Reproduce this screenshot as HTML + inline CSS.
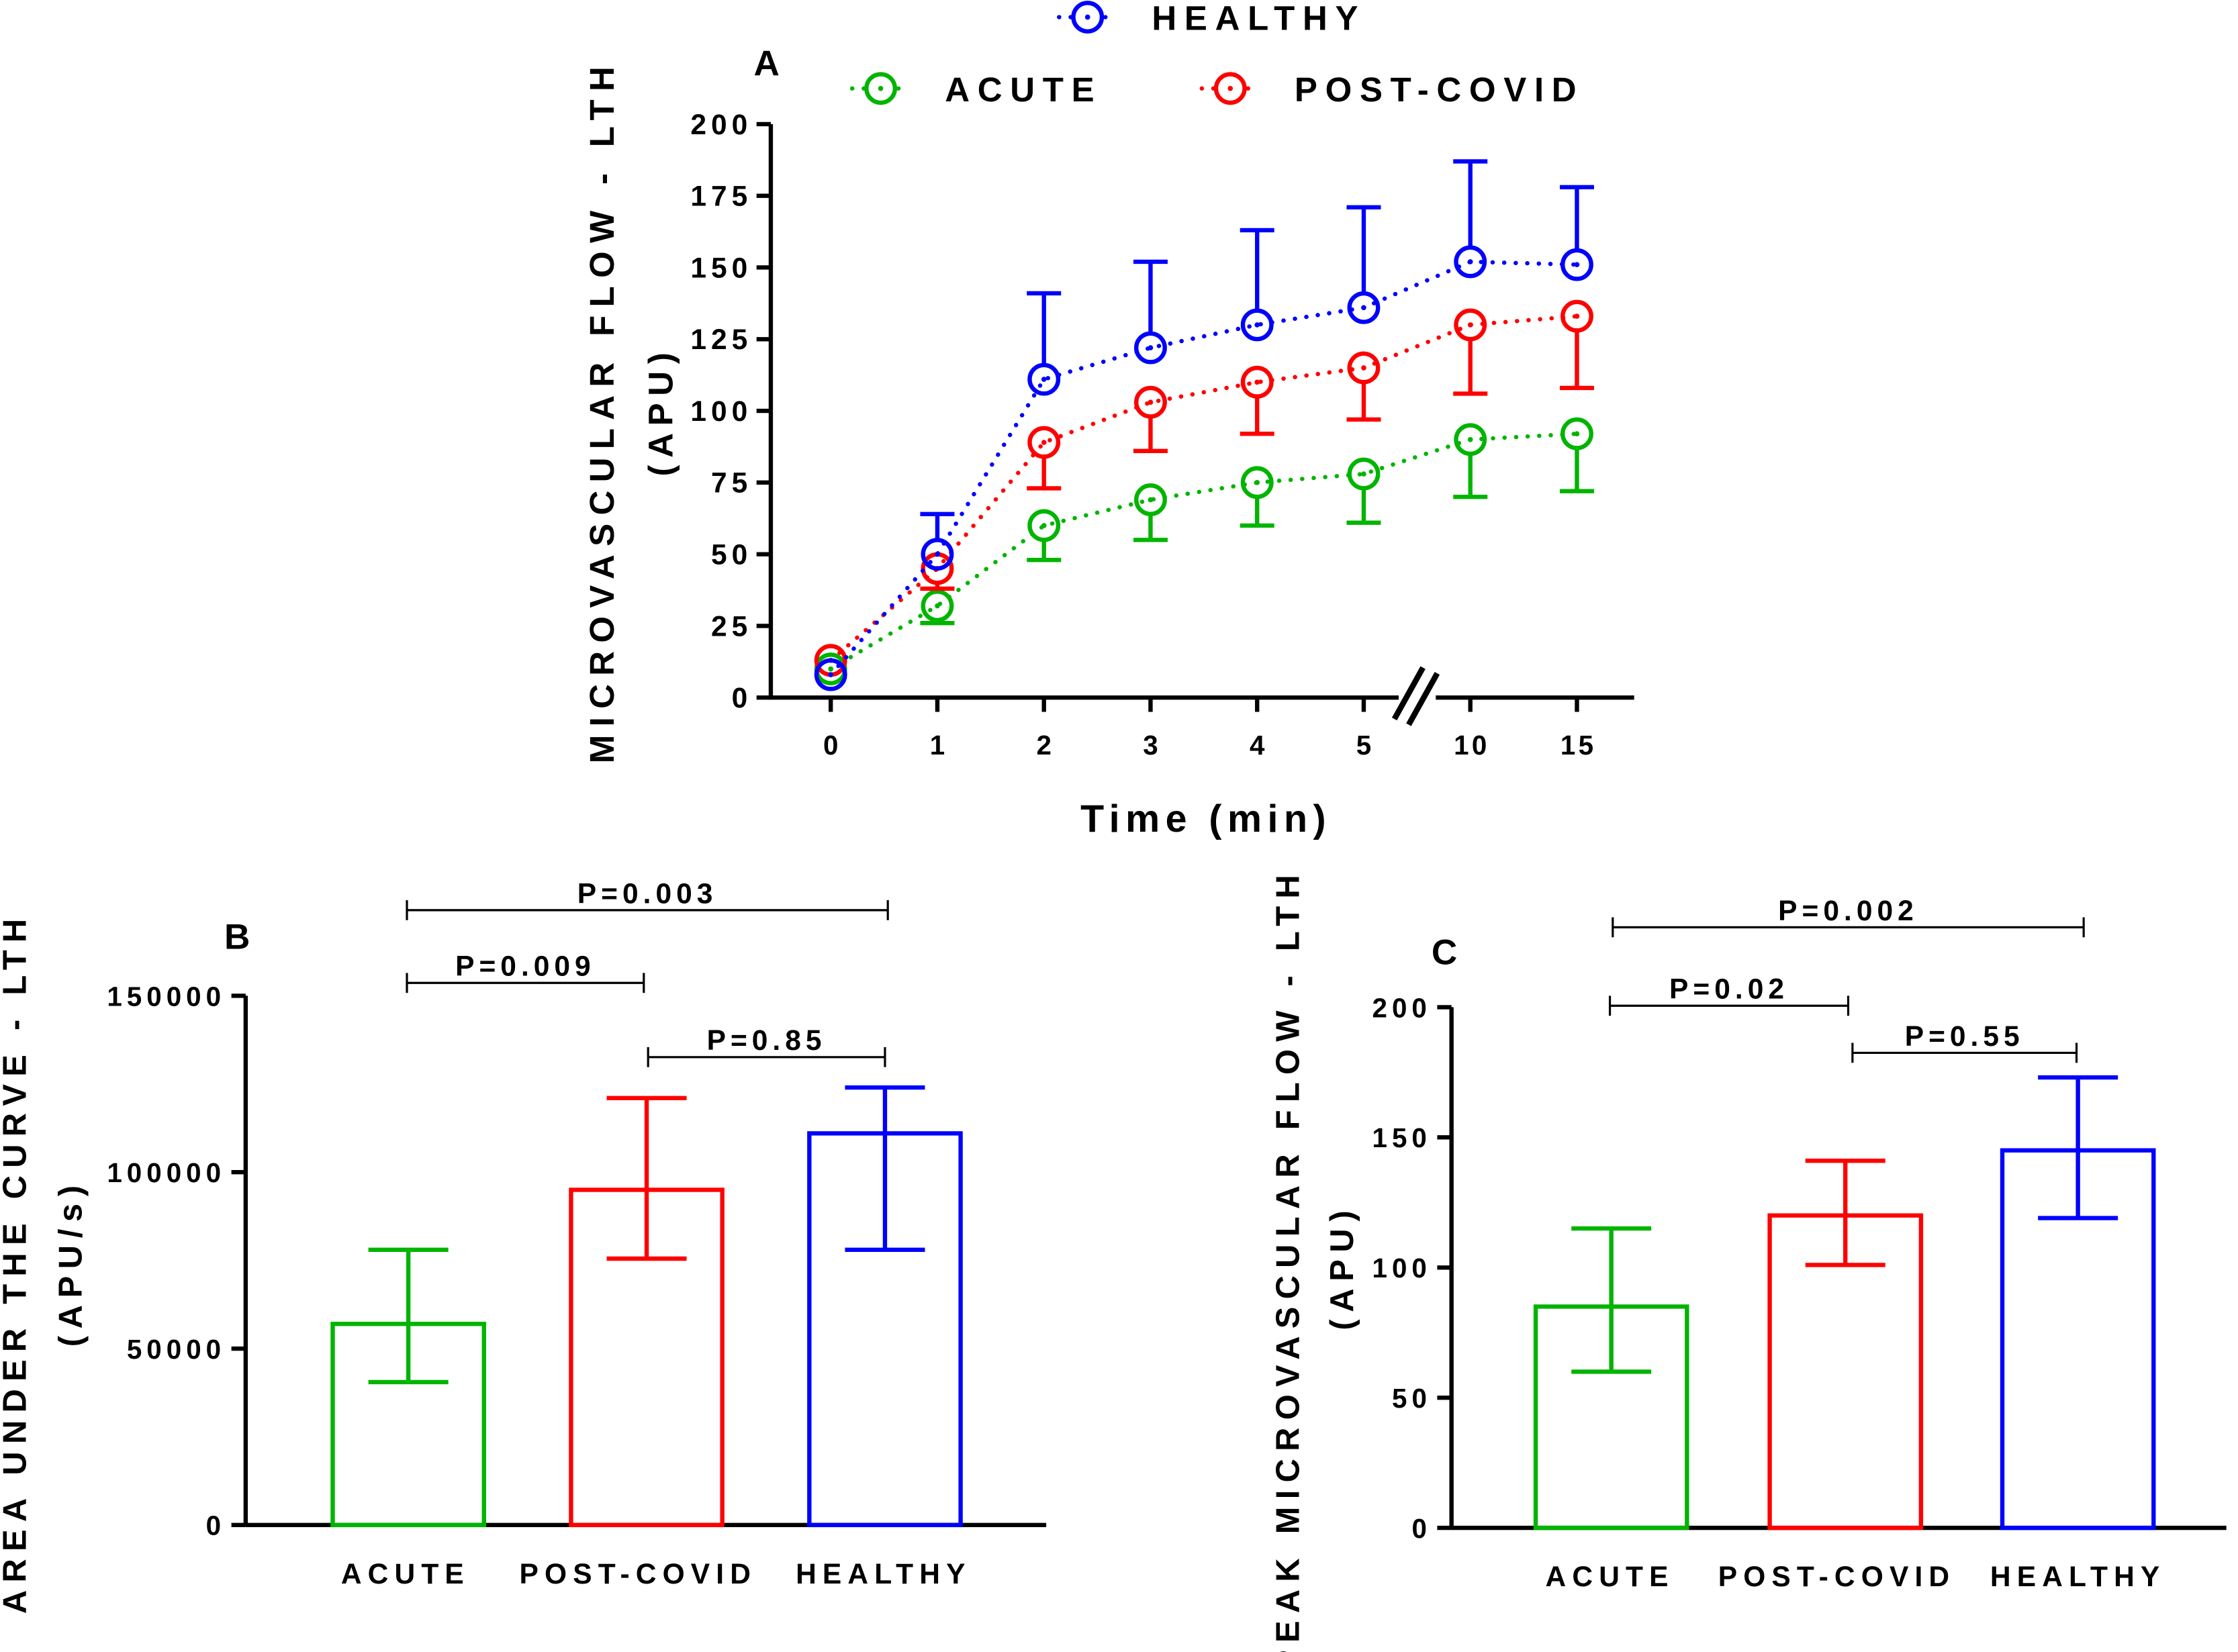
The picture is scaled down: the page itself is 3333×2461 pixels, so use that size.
<!DOCTYPE html>
<html><head><meta charset="utf-8"><style>
html,body{margin:0;padding:0;background:#fff}
svg{display:block}
text{font-family:"Liberation Sans",Arial,sans-serif;font-weight:bold;fill:#000}
</style></head><body>
<svg id="fig" width="3333" height="2461" viewBox="0 0 1568 1158" xmlns="http://www.w3.org/2000/svg">
<g id="pa"></g>
<g id="pb"></g>
<g id="pc"></g>
</svg>
<script>
// Panel A data
const timeLabels = ["0","1","2","3","4","5","10","15"];
const healthyMean = [8,50,111,122,130,136,152,151];
const healthySD   = [0,14,30,30,33,35,35,27];
const postMean    = [13,45,89,103,110,115,130,133];
const postSD      = [0,7,16,17,18,18,24,25];
const acuteMean   = [10,32,60,69,75,78,90,92];
const acuteSD     = [0,6,12,14,15,17,20,20];
const aTicks      = [0,25,50,75,100,125,150,175,200];
// Panel B data
const groups      = ["ACUTE","POST-COVID","HEALTHY"];
const aucMean     = [57000,95000,111000];
const aucLow      = [40500,75500,78000];
const aucHigh     = [78000,121000,124000];
const bTicks      = [0,50000,100000,150000];
// Panel C data
const peakMean    = [85,120,145];
const peakLow     = [60,101,119];
const peakHigh    = [115,141,173];
const cTicks      = [0,50,100,150,200];

const NS="http://www.w3.org/2000/svg";
function mk(parent,tag,attrs,txt){const e=document.createElementNS(NS,tag);for(const k in attrs)e.setAttribute(k,attrs[k]);if(txt!==undefined)e.textContent=txt;parent.appendChild(e);return e;}
const colors={g:"#00b400",r:"#ff0000",b:"#0000ff"};

// ---------- Panel A ----------
const pa=document.getElementById('pa');
const ay=v=>489-v*(402/200);
const ax=i=>582+i*74.7;
mk(pa,'line',{x1:540,y1:87,x2:540,y2:489,stroke:'#000','stroke-width':3});
mk(pa,'line',{x1:539,y1:489,x2:1145,y2:489,stroke:'#000','stroke-width':3});
aTicks.forEach(t=>{
  mk(pa,'line',{x1:530,y1:ay(t),x2:540,y2:ay(t),stroke:'#000','stroke-width':3});
  const e=mk(pa,'text',{x:527,y:ay(t)+7,'text-anchor':'end','font-size':20,'letter-spacing':3.3},t);
  
  
});
timeLabels.forEach((t,i)=>{
  mk(pa,'line',{x1:ax(i),y1:489,x2:ax(i),y2:499,stroke:'#000','stroke-width':3});
  const e=mk(pa,'text',{x:ax(i)+1,y:529,'text-anchor':'middle','font-size':19,'letter-spacing':2},t);
  
  
});
// axis break
mk(pa,'rect',{x:980,y:484,width:26,height:10,fill:'#fff'});
mk(pa,'line',{x1:977,y1:504,x2:997,y2:468,stroke:'#000','stroke-width':4});
mk(pa,'line',{x1:987,y1:508,x2:1007,y2:472,stroke:'#000','stroke-width':4});
function series(mean,sd,col,dir,name){
  const g=mk(pa,'g',{});
  
  
  const pts=mean.map((v,i)=>ax(i)+','+ay(v)).join(' ');
  mk(g,'polyline',{points:pts,fill:'none',stroke:col,'stroke-width':3,'stroke-dasharray':'0.1 8','stroke-linecap':'round'});
  mean.forEach((v,i)=>{
    if(sd[i]>0){
      const y2=ay(v+dir*sd[i]);
      const y1=ay(v)+dir*(-10);
      mk(g,'line',{x1:ax(i),y1:y1,x2:ax(i),y2:y2,stroke:col,'stroke-width':3});
      mk(g,'line',{x1:ax(i)-12,y1:y2,x2:ax(i)+12,y2:y2,stroke:col,'stroke-width':3});
    }
    const c=mk(g,'circle',{cx:ax(i),cy:ay(v),r:10,fill:'none',stroke:col,'stroke-width':3});
    
    
    mk(g,'circle',{cx:ax(i),cy:ay(v),r:1.8,fill:col});
  });
}
series(acuteMean,acuteSD,colors.g,-1,'series-acute');
series(postMean,postSD,colors.r,-1,'series-post-covid');
series(healthyMean,healthySD,colors.b,1,'series-healthy');
function legend(x,y,col,label,name){
  const g=mk(pa,'g',{});
  
  
  mk(g,'line',{x1:x-20,y1:y,x2:x+20,y2:y,stroke:col,'stroke-width':3,'stroke-dasharray':'0.1 8','stroke-linecap':'round'});
  mk(g,'circle',{cx:x,cy:y,r:10,fill:'#fff',stroke:col,'stroke-width':3});
  mk(g,'circle',{cx:x,cy:y,r:1.8,fill:col});
  mk(g,'text',{x:x+45,y:y+9,'font-size':24,'letter-spacing':5.5},label);
}
legend(762,12,colors.b,'HEALTHY','legend-healthy');
legend(617,62,colors.g,'ACUTE','legend-acute');
legend(862,62,colors.r,'POST-COVID','legend-post-covid');
mk(pa,'text',{x:528,y:53,'font-size':25},'A');
let t=mk(pa,'text',{x:845,y:583,'text-anchor':'middle','font-size':27,'letter-spacing':4},'Time (min)');

t=mk(pa,'text',{transform:'translate(430,288) rotate(-90)','text-anchor':'middle','font-size':24,'letter-spacing':5.8},'MICROVASCULAR FLOW - LTH');

mk(pa,'text',{transform:'translate(471,288) rotate(-90)','text-anchor':'middle','font-size':24,'letter-spacing':5},'(APU)');

// ---------- Bar panels ----------
function barPanel(root,o){
  const y=v=>o.y0-v*o.k;
  mk(root,'line',{x1:o.ax,y1:o.top,x2:o.ax,y2:o.y0,stroke:'#000','stroke-width':3});
  mk(root,'line',{x1:o.ax,y1:o.y0,x2:o.xEnd,y2:o.y0,stroke:'#000','stroke-width':3});
  o.ticks.forEach(tv=>{
    mk(root,'line',{x1:o.ax-10,y1:y(tv),x2:o.ax,y2:y(tv),stroke:'#000','stroke-width':3});
    const e=mk(root,'text',{x:o.ax-14,y:y(tv)+7,'text-anchor':'end','font-size':19,'letter-spacing':3.3},tv);
    
    
  });
  const cols=[colors.g,colors.r,colors.b];
  o.groups.forEach((gname,i)=>{
    const cx=o.cx[i];
    const b=mk(root,'rect',{x:cx-53,y:y(o.mean[i]),width:106,height:o.y0-y(o.mean[i]),fill:'none',stroke:cols[i],'stroke-width':3});
    
    
    mk(root,'line',{x1:cx,y1:y(o.low[i]),x2:cx,y2:y(o.high[i]),stroke:cols[i],'stroke-width':3});
    mk(root,'line',{x1:cx-28,y1:y(o.low[i]),x2:cx+28,y2:y(o.low[i]),stroke:cols[i],'stroke-width':3});
    mk(root,'line',{x1:cx-28,y1:y(o.high[i]),x2:cx+28,y2:y(o.high[i]),stroke:cols[i],'stroke-width':3});
    const e=mk(root,'text',{x:o.lx[i],y:o.y0+41,'text-anchor':'middle','font-size':20,'letter-spacing':4.3},gname);
    
    
  });
  o.brackets.forEach(br=>{
    const g=mk(root,'g',{});
    
    
    mk(g,'line',{x1:br[0],y1:br[2],x2:br[1],y2:br[2],stroke:'#000','stroke-width':1.5});
    mk(g,'line',{x1:br[0],y1:br[2]-7,x2:br[0],y2:br[2]+7,stroke:'#000','stroke-width':1.5});
    mk(g,'line',{x1:br[1],y1:br[2]-7,x2:br[1],y2:br[2]+7,stroke:'#000','stroke-width':1.5});
    mk(g,'text',{x:(br[0]+br[1])/2,y:br[2]-5,'text-anchor':'middle','font-size':20,'letter-spacing':3.3},br[3]);
  });
}
barPanel(document.getElementById('pb'),{ax:172,xEnd:733,y0:1069,top:698,k:371/150000,ticks:bTicks,groups:groups,
  mean:aucMean,low:aucLow,high:aucHigh,cx:[286,453,620],lx:[284,447,619],
  brackets:[[285,622,638,'P=0.003'],[285,451,689,'P=0.009'],[454,620,741,'P=0.85']]});
barPanel(document.getElementById('pc'),{ax:1017,xEnd:1560,y0:1071,top:706,k:365/200,ticks:cTicks,groups:groups,
  mean:peakMean,low:peakLow,high:peakHigh,cx:[1129,1293,1456],lx:[1128,1287,1456],
  brackets:[[1130,1460,650,'P=0.002'],[1128,1295,705,'P=0.02'],[1298,1455,738,'P=0.55']]});
const pb=document.getElementById('pb'),pc=document.getElementById('pc');
mk(pb,'text',{x:157,y:665,'font-size':25},'B');
mk(pc,'text',{x:1003,y:676,'font-size':25},'C');
t=mk(pb,'text',{transform:'translate(18,885) rotate(-90)','text-anchor':'middle','font-size':23,'letter-spacing':5.3},'AREA UNDER THE CURVE - LTH');

mk(pb,'text',{transform:'translate(57,885) rotate(-90)','text-anchor':'middle','font-size':23,'letter-spacing':5},'(APU/s)');
t=mk(pc,'text',{transform:'translate(910,890) rotate(-90)','text-anchor':'middle','font-size':23,'letter-spacing':5.3},'PEAK MICROVASCULAR FLOW - LTH');

mk(pc,'text',{transform:'translate(948,888) rotate(-90)','text-anchor':'middle','font-size':23,'letter-spacing':5},'(APU)');
</script>
</body></html>
